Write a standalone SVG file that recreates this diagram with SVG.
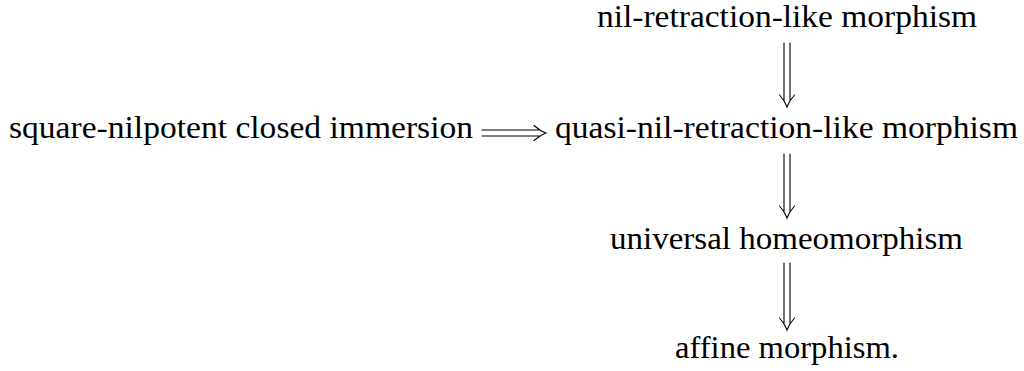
<svg xmlns="http://www.w3.org/2000/svg" width="1024" height="371" viewBox="0 0 1024 371">
<style>
.t{font-family:"Liberation Serif","Times New Roman",Tinos,serif;font-size:31px;fill:#000}
.a{fill:none;stroke:#000;stroke-width:1.1;stroke-linecap:round}
</style>
<rect width="1024" height="371" fill="#fff"/>
<g id="connectors">
<g id="e1"><path class="a" d="M784 43V101M790 43V101M779.5 95Q785 101 787 107Q789 101 794.5 95"/></g>
<g id="e2"><path class="a" d="M784 154V212M790 154V212M779.5 206Q785 212 787 218Q789 212 794.5 206"/></g>
<g id="e3"><path class="a" d="M784 263V324M790 263V324M779.5 318Q785 324 787 330Q789 324 794.5 318"/></g>
<g id="e4"><path class="a" d="M482 130H540M482 136H540M534 125.5Q540 131 546 133Q540 135 534 140.5"/></g>
</g>
<g id="n1"><text class="t" x="597" y="27" textLength="380" lengthAdjust="spacingAndGlyphs">nil-retraction-like morphism</text></g>
<g id="n2"><text class="t" x="9" y="138" textLength="464" lengthAdjust="spacingAndGlyphs">square-nilpotent closed immersion</text></g>
<g id="n3"><text class="t" x="555" y="138" textLength="463" lengthAdjust="spacingAndGlyphs">quasi-nil-retraction-like morphism</text></g>
<g id="n4"><text class="t" x="610" y="249" textLength="353" lengthAdjust="spacingAndGlyphs">universal homeomorphism</text></g>
<g id="n5"><text class="t" x="675" y="358" textLength="224" lengthAdjust="spacingAndGlyphs">affine morphism.</text></g>
</svg>
